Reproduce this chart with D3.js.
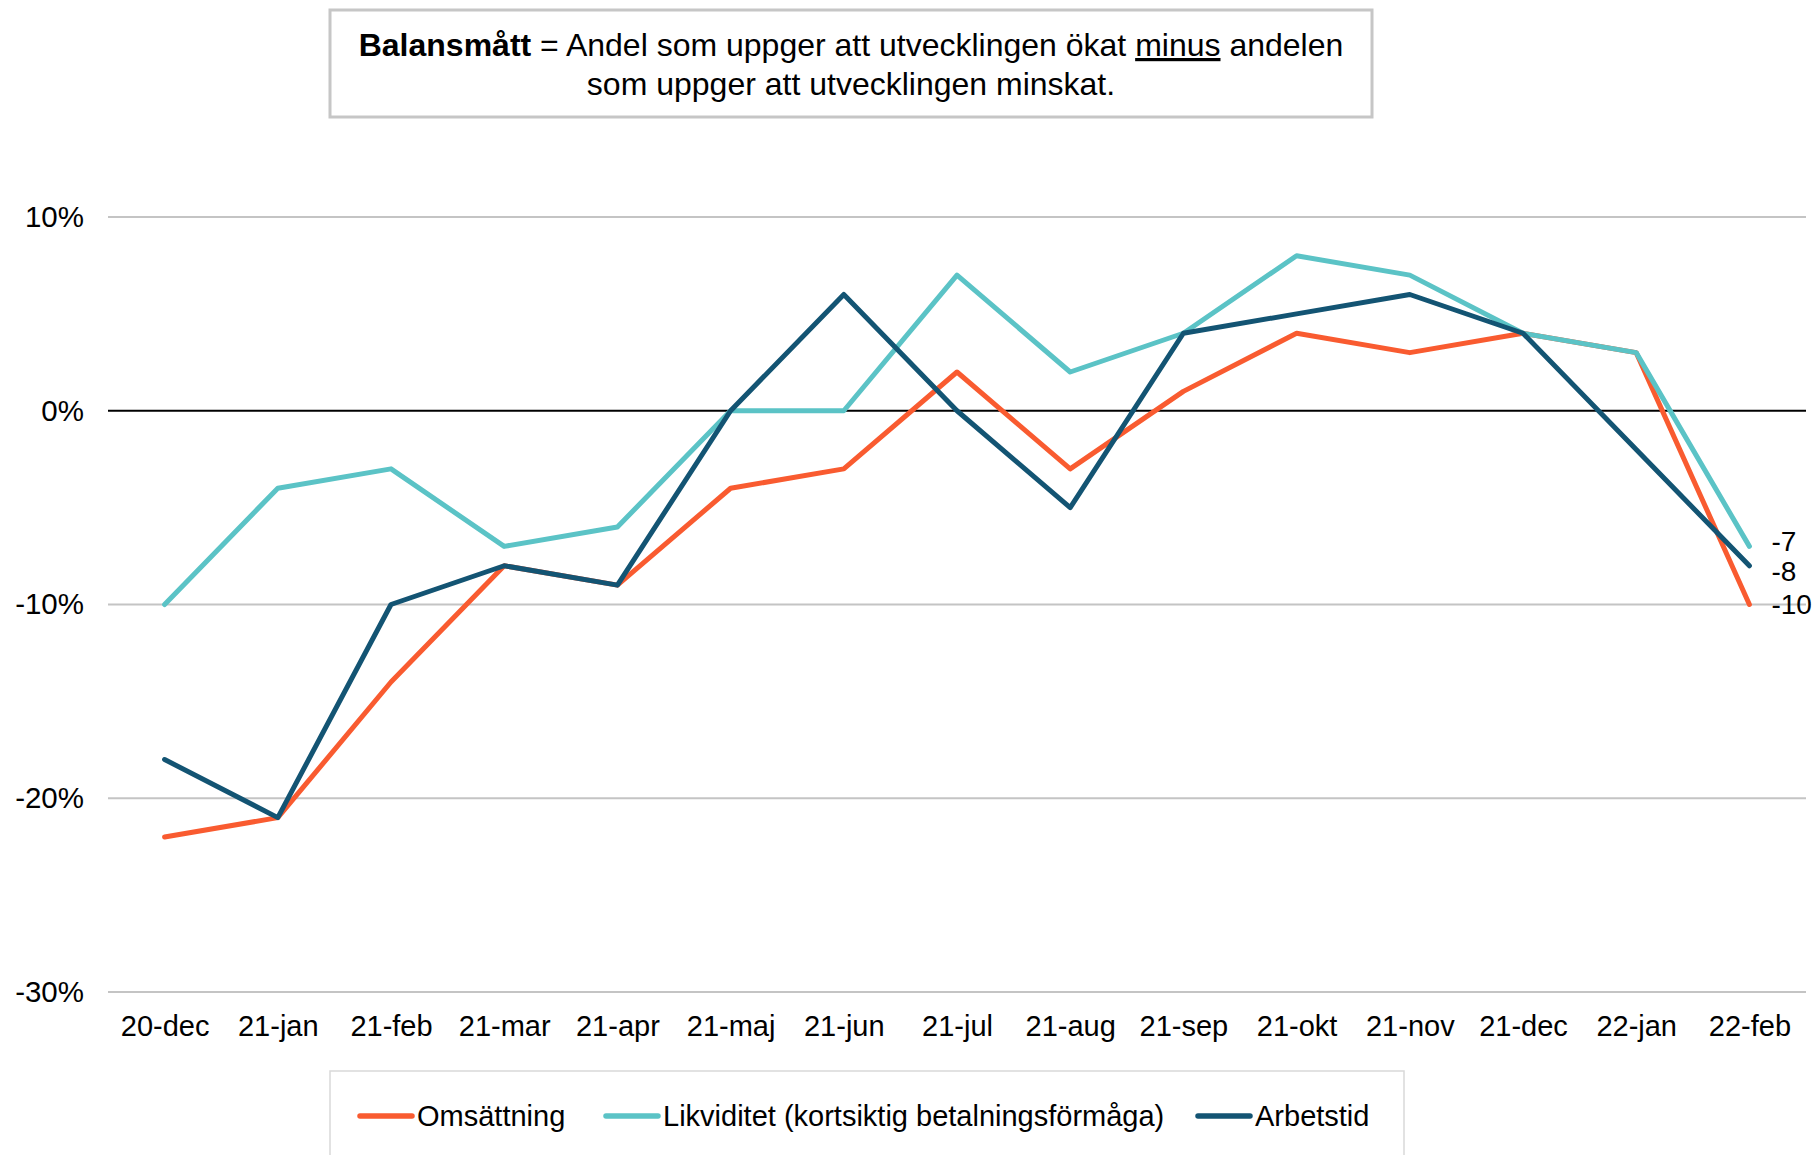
<!DOCTYPE html>
<html>
<head>
<meta charset="utf-8">
<title>Balansmått</title>
<script src="https://cdn.jsdelivr.net/npm/d3@7"></script>
<style>
  body { margin: 0; background: #fff; }
  svg text { font-family: "Liberation Sans", Arial, sans-serif; fill: #000; }
</style>
</head>
<body>
<div id="chart"></div>
<script>
var months = ["20-dec","21-jan","21-feb","21-mar","21-apr","21-maj","21-jun","21-jul","21-aug","21-sep","21-okt","21-nov","21-dec","22-jan","22-feb"];
var omsattning = [-22,-21,-14,-8,-9,-4,-3,2,-3,1,4,3,4,3,-10];
var likviditet = [-10,-4,-3,-7,-6,0,0,7,2,4,8,7,4,3,-7];
var arbetstid  = [-18,-21,-10,-8,-9,0,6,0,-5,4,5,6,4,-2,-8];
var yTicks = [10,0,-10,-20,-30];
var seriesNames = ["Omsättning","Likviditet (kortsiktig betalningsförmåga)","Arbetstid"];
var colors = ["#f95b30","#5bc3c6","#135473"];

var width = 1819, height = 1155;
var svg = d3.select("#chart").append("svg")
  .attr("width", width).attr("height", height);

var x = d3.scalePoint().domain(months).range([108, 1806]).padding(0.5);
var y = d3.scaleLinear().domain([-30, 10]).range([992, 217]);

// gridlines
svg.append("g").selectAll("line").data(yTicks).enter().append("line")
  .attr("x1", 108).attr("x2", 1806)
  .attr("y1", function(d){ return y(d); }).attr("y2", function(d){ return y(d); })
  .attr("stroke", function(d){ return d === 0 ? "#000" : "#c4c4c4"; })
  .attr("stroke-width", 2);

// y axis labels
var yAxis = d3.axisLeft(y).tickValues(yTicks).tickSize(0).tickPadding(0)
  .tickFormat(function(d){ return d + "%"; });
svg.append("g").attr("transform", "translate(84,0)").call(yAxis)
  .call(function(g){ g.select(".domain").remove(); })
  .selectAll("text").attr("font-size", 29.5).attr("fill", "#000")
  .style("font-family", "Liberation Sans, Arial, sans-serif");

// x axis labels
var xAxis = d3.axisBottom(x).tickSize(0).tickPadding(0);
svg.append("g").attr("transform", "translate(0,1015)").call(xAxis)
  .call(function(g){ g.select(".domain").remove(); })
  .selectAll("text").attr("font-size", 29).attr("fill", "#000")
  .style("font-family", "Liberation Sans, Arial, sans-serif");

// lines
var allSeries = [omsattning, likviditet, arbetstid];
var line = d3.line()
  .x(function(d, i){ return x(months[i]); })
  .y(function(d){ return y(d); });

allSeries.forEach(function(s, k){
  svg.append("path").datum(s)
    .attr("d", line)
    .attr("fill", "none")
    .attr("stroke", colors[k])
    .attr("stroke-width", 5)
    .attr("stroke-linejoin", "round")
    .attr("stroke-linecap", "round");
});

// end labels (-7 and -8 nudged apart a little)
var labelShift = [0, -5, 5];
allSeries.forEach(function(s, k){
  var last = s[s.length - 1];
  svg.append("text")
    .attr("x", x(months[months.length - 1]) + 22)
    .attr("y", y(last) + labelShift[k])
    .attr("dy", "0.35em")
    .attr("font-size", 28)
    .text(last);
});

// info box
svg.append("rect")
  .attr("x", 330).attr("y", 10).attr("width", 1042).attr("height", 107)
  .attr("fill", "#fff").attr("stroke", "#c6c6c6").attr("stroke-width", 3);
var t1 = svg.append("text").attr("x", 851).attr("y", 56)
  .attr("text-anchor", "middle").attr("font-size", 32).attr("fill", "#3a3a3a");
t1.append("tspan").attr("font-weight", "bold").text("Balansmått");
t1.append("tspan").text(" = Andel som uppger att utvecklingen ökat ");
t1.append("tspan").attr("text-decoration", "underline").text("minus");
t1.append("tspan").text(" andelen");
svg.append("text").attr("x", 851).attr("y", 95)
  .attr("text-anchor", "middle").attr("font-size", 32).attr("fill", "#3a3a3a")
  .text("som uppger att utvecklingen minskat.");

// legend
svg.append("rect")
  .attr("x", 330).attr("y", 1071).attr("width", 1074).attr("height", 100)
  .attr("fill", "#fff").attr("stroke", "#d9d9d9").attr("stroke-width", 1.5);
var legendX = [360, 606, 1198];
seriesNames.forEach(function(n, k){
  var g = svg.append("g").attr("transform", "translate(" + legendX[k] + ",1116)");
  g.append("line").attr("x1", 0).attr("x2", 52).attr("y1", 0).attr("y2", 0)
    .attr("stroke", colors[k]).attr("stroke-width", 5.5).attr("stroke-linecap", "round");
  g.append("text").attr("x", 57).attr("dy", "0.35em").attr("font-size", 29).text(n);
});
</script>
</body>
</html>
